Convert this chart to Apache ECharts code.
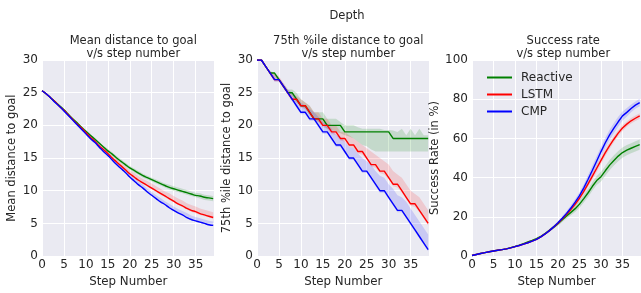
<!DOCTYPE html>
<html>
<head>
<meta charset="UTF-8">
<title>Depth</title>
<script src="https://cdn.jsdelivr.net/npm/echarts@6/dist/echarts.min.js"></script>
<style>
  html, body { margin: 0; padding: 0; background: #fff; }
  #chart { width: 641px; height: 293px; }
</style>
</head>
<body>
<div id="chart"></div>
<script>
// step numbers 0..39
var steps = [];
for (var i = 0; i < 40; i++) steps.push(i);

var seriesNames = ['Reactive', 'LSTM', 'CMP'];
var seriesColors = ['#008000', '#ff0000', '#0000ff'];
var bandColors = ['rgba(0,128,0,0.16)', 'rgba(255,0,0,0.14)', 'rgba(0,0,255,0.14)'];

// panel 1: mean distance to goal
var p1Green = [25.3,24.8,24.2,23.6,23.0,22.4,21.7,21.0,20.4,19.7,19.1,18.5,17.9,17.3,16.7,16.1,15.6,15.0,14.5,14.0,13.5,13.1,12.7,12.3,12.0,11.7,11.4,11.1,10.8,10.5,10.3,10.1,9.9,9.7,9.5,9.3,9.2,9.0,8.9,8.8];
var p1GreenHi = [25.4,24.9,24.3,23.7,23.1,22.5,21.8,21.1,20.5,19.9,19.3,18.7,18.1,17.5,16.9,16.4,15.9,15.3,14.8,14.3,13.8,13.4,13.0,12.6,12.3,12.0,11.7,11.4,11.1,10.9,10.7,10.5,10.3,10.1,9.9,9.7,9.6,9.4,9.3,9.2];
var p1GreenLo = [25.2,24.7,24.1,23.5,22.9,22.3,21.6,20.9,20.3,19.5,18.9,18.3,17.7,17.1,16.5,15.8,15.3,14.7,14.2,13.7,13.2,12.8,12.4,12.0,11.7,11.4,11.1,10.8,10.5,10.2,10.0,9.8,9.6,9.4,9.2,9.0,8.8,8.6,8.5,8.4];
var p1Red = [25.3,24.8,24.2,23.6,22.9,22.3,21.6,20.9,20.2,19.6,18.9,18.2,17.6,16.9,16.3,15.7,15.0,14.4,13.8,13.2,12.6,12.1,11.6,11.2,10.8,10.4,10.0,9.6,9.2,8.8,8.4,8.0,7.7,7.3,7.0,6.8,6.5,6.3,6.1,5.9];
var p1RedHi = [25.4,24.9,24.3,23.7,23.0,22.4,21.7,21.0,20.3,19.7,19.1,18.4,17.8,17.2,16.6,16.0,15.4,14.8,14.2,13.7,13.1,12.7,12.2,11.8,11.5,11.1,10.7,10.3,9.9,9.6,9.2,8.8,8.5,8.1,7.8,7.6,7.3,7.1,6.9,6.7];
var p1RedLo = [25.2,24.7,24.1,23.5,22.8,22.2,21.5,20.8,20.1,19.5,18.8,18.1,17.5,16.8,16.2,15.5,14.9,14.3,13.6,13.0,12.4,11.9,11.4,11.0,10.6,10.2,9.8,9.4,9.0,8.6,8.2,7.8,7.5,7.1,6.8,6.5,6.3,6.1,5.9,5.7];
var p1Blue = [25.3,24.8,24.2,23.5,22.9,22.2,21.5,20.8,20.1,19.4,18.7,18.0,17.4,16.7,16.0,15.4,14.7,14.0,13.4,12.8,12.1,11.5,10.9,10.4,9.8,9.3,8.8,8.3,7.9,7.4,7.0,6.6,6.3,5.9,5.6,5.4,5.2,5.0,4.8,4.7];
var p1BlueHi = [25.4,24.9,24.3,23.6,23.0,22.3,21.6,20.9,20.2,19.6,18.9,18.2,17.6,16.9,16.3,15.7,15.0,14.3,13.7,13.1,12.5,11.9,11.4,10.9,10.3,9.8,9.3,8.9,8.4,8.0,7.6,7.2,6.9,6.6,6.2,6.0,5.8,5.6,5.4,5.3];
var p1BlueLo = [25.2,24.7,24.1,23.4,22.8,22.1,21.4,20.7,20.0,19.3,18.6,17.9,17.3,16.6,15.9,15.3,14.6,13.9,13.3,12.7,12.0,11.4,10.8,10.3,9.7,9.2,8.7,8.2,7.8,7.3,6.9,6.5,6.2,5.8,5.5,5.3,5.1,4.9,4.7,4.6];

// panel 2: 75th percentile distance to goal
var p2Green = [30,30,29,28,28,27,26,25,25,24,23,23,22,21,21,21,20,20,20,20,19,19,19,19,19,19,19,19,19,19,19,18,18,18,18,18,18,18,18,18];
var p2GreenHi = [30,30,29,28.3,28,27.3,26.3,25.5,25.5,25,24,23.5,23,22,22,22,21,21,21,20.5,20,20,20,19.7,19.5,19.5,19.5,19.5,19.5,19.3,19.3,19.2,19,19.5,18.5,19.5,18.5,19.5,18.5,18.5];
var p2GreenLo = [30,30,29,28,27.5,27,26,25,24.5,23.5,23,22.5,21.5,21,20.5,20,19.5,19.3,19,18.8,18.5,18.3,18,17.5,17,16.8,16.3,16,16,16,16,16,16,16,16,16,16,16,16,16];
var p2Red = [30,30,29,28,27,27,26,25,24,24,23,23,22,21,21,20,20,19,19,18,18,17,17,16,16,15,14,14,13,13,12,11,11,10,9,8,8,7,6,5];
var p2RedHi = [30,30,29,28,28,27.5,26.5,25.5,25,24.5,24,23.5,23,22,22,21,21,20,20,19,19,18.5,18,17.5,17,16.5,16,15.5,15,14.5,14,13,12.5,12,11,10,9.5,9,8,7];
var p2RedLo = [30,30,29,27.7,26.7,26.7,25.7,24.7,23.7,23.5,22.7,22.5,21.7,20.7,20.5,19.7,19.5,18.7,18.5,17.7,17.5,16.7,16.5,15.7,15.5,14.7,13.7,13.5,12.7,12.5,11.7,10.7,10.5,9.7,8.7,7.7,7.5,6.7,5.7,4.7];
var p2Blue = [30,30,29,28,27,27,26,25,24,23,22,22,21,21,20,19,19,18,17,17,16,15,15,14,13,13,12,11,10,10,9,8,7,7,6,5,4,3,2,1];
var p2BlueHi = [30,30,29,28.3,27.5,27.3,26.5,25.5,25,24.3,23.5,23,22.5,22,21.3,20.5,20.3,19.5,18.5,18.3,17.5,16.7,16.5,15.7,15,14.5,14,13,12.3,12,11,10.3,9.3,9,8.3,7.3,6.3,5.3,4.3,3.3];
var p2BlueLo = [30,30,29,27.7,26.7,26.7,25.7,24.7,23.7,22.7,21.7,21.7,20.7,20.7,19.7,18.7,18.7,17.7,16.7,16.7,15.7,14.7,14.7,13.7,12.7,12.7,11.7,10.7,9.7,9.7,8.7,7.7,6.7,6.7,5.7,4.7,3.7,2.7,1.7,0.7];

// panel 3: success rate (in %)
var p3Green = [0.3,0.8,1.3,1.8,2.2,2.6,3.0,3.3,3.7,4.3,4.9,5.6,6.4,7.2,8.0,8.9,10.0,11.5,13.1,14.8,16.5,18.5,20.5,22.3,24.2,26.5,29.3,32.3,35.6,38.5,40.5,43.5,46.4,48.8,51.0,52.8,54.0,55.0,56.0,56.8];
var p3GreenHi = [0.5,1.0,1.5,2.0,2.4,2.8,3.2,3.5,3.9,4.6,5.2,5.9,6.7,7.6,8.5,9.4,10.6,12.2,13.9,15.7,17.5,19.6,21.8,23.8,25.9,28.3,31.3,34.4,37.8,40.8,43.0,46.0,49.0,51.4,53.6,55.4,56.6,57.6,58.6,59.4];
var p3GreenLo = [0.1,0.6,1.1,1.6,2.0,2.4,2.8,3.1,3.5,4.0,4.6,5.3,6.1,6.8,7.5,8.4,9.4,10.8,12.3,13.9,15.5,17.4,19.2,20.8,22.5,24.7,27.3,30.2,33.4,36.2,38.0,41.0,43.8,46.2,48.4,50.2,51.4,52.4,53.4,54.2];
var p3Red = [0.3,0.8,1.3,1.8,2.2,2.6,3.0,3.3,3.7,4.2,4.8,5.4,6.1,6.8,7.6,8.5,9.8,11.3,13.0,14.8,16.8,19.0,21.3,23.8,26.5,29.5,33.0,36.8,40.8,44.8,48.8,52.8,56.3,59.6,62.7,65.3,67.3,69.0,70.3,71.5];
var p3RedHi = [0.5,1.0,1.5,2.0,2.4,2.8,3.2,3.5,3.9,4.4,5.0,5.6,6.4,7.1,7.9,8.9,10.2,11.8,13.6,15.5,17.6,19.9,22.3,24.9,27.7,30.8,34.5,38.4,42.6,46.6,50.6,54.6,58.0,61.2,64.2,66.8,68.7,70.4,71.7,72.9];
var p3RedLo = [0.1,0.6,1.1,1.6,2.0,2.4,2.8,3.1,3.5,4.0,4.6,5.2,5.8,6.5,7.3,8.1,9.4,10.8,12.4,14.1,16.0,18.1,20.3,22.7,25.3,28.2,31.5,35.2,39.0,43.0,47.0,51.0,54.6,58.0,61.2,63.8,65.9,67.6,68.9,70.1];
var p3Blue = [0.3,0.8,1.3,1.8,2.2,2.6,3.0,3.3,3.7,4.2,4.8,5.4,6.1,6.8,7.6,8.5,9.8,11.3,13.0,14.9,17.0,19.3,21.8,24.5,27.5,30.8,34.8,39.2,43.8,48.5,53.3,57.8,61.8,65.3,68.5,71.5,73.3,75.3,77.0,78.3];
var p3BlueHi = [0.5,1.0,1.5,2.0,2.4,2.8,3.2,3.5,3.9,4.4,5.0,5.6,6.4,7.1,7.9,8.9,10.2,11.8,13.6,15.7,17.9,20.4,23.0,25.9,29.1,32.6,36.8,41.4,46.2,51.0,55.8,60.4,64.4,67.9,71.0,73.8,75.5,77.3,78.9,80.2];
var p3BlueLo = [0.1,0.6,1.1,1.6,2.0,2.4,2.8,3.1,3.5,4.0,4.6,5.2,5.8,6.5,7.3,8.1,9.4,10.8,12.4,14.1,16.1,18.2,20.6,23.1,25.9,29.0,33.0,37.2,41.6,46.2,50.8,55.2,59.2,62.7,66.0,69.2,71.1,73.3,75.1,76.4];

var panels = [
  { title: 'Mean distance to goal\nv/s step number', yName: 'Mean distance to goal', yMax: 30, yStep: 5, smooth: true,
    lines: [p1Green, p1Red, p1Blue], his: [p1GreenHi, p1RedHi, p1BlueHi], los: [p1GreenLo, p1RedLo, p1BlueLo] },
  { title: '75th %ile distance to goal\nv/s step number', yName: '75th %ile distance to goal', yMax: 30, yStep: 5, smooth: false,
    lines: [p2Green, p2Red, p2Blue], his: [p2GreenHi, p2RedHi, p2BlueHi], los: [p2GreenLo, p2RedLo, p2BlueLo] },
  { title: 'Success rate\nv/s step number', yName: 'Success Rate (in %)', yMax: 100, yStep: 20, smooth: false,
    lines: [p3Green, p3Red, p3Blue], his: [p3GreenHi, p3RedHi, p3BlueHi], los: [p3GreenLo, p3RedLo, p3BlueLo] }
];

var gridLefts = [42, 257, 472];
var gridWidth = 172.5;
var txt = '#262626';
var font = 'DejaVu Sans';

function pairs(ys) {
  return steps.map(function (x, k) { return [x, ys[k]]; });
}

// fill_between style band drawn as one polygon through the axis scales
function bandSeries(pi, lo, hi, color) {
  return {
    type: 'custom', xAxisIndex: pi, yAxisIndex: pi, silent: true, z: 1,
    data: steps.map(function (x, k) { return [x, lo[k], hi[k]]; }),
    encode: { x: 0, y: [1, 2] },
    renderItem: function (params, api) {
      if (params.dataIndex !== 0) return null;
      var pts = [];
      steps.forEach(function (x, k) { pts.push(api.coord([x, hi[k]])); });
      for (var k = steps.length - 1; k >= 0; k--) pts.push(api.coord([steps[k], lo[k]]));
      return { type: 'polygon', shape: { points: pts }, style: { fill: color } };
    }
  };
}

var titles = [{
  text: 'Depth', left: 342, top: 5, textAlign: 'center',
  textStyle: { fontFamily: font, fontSize: 11.5, fontWeight: 'normal', color: txt }
}];
var grids = [], xAxes = [], yAxes = [], series = [];

panels.forEach(function (p, pi) {
  titles.push({
    text: p.title, left: gridLefts[pi] + gridWidth / 2, top: 30, textAlign: 'center',
    textStyle: { fontFamily: font, fontSize: 11.5, fontWeight: 'normal', color: txt, lineHeight: 13 }
  });
  grids.push({ left: gridLefts[pi], top: 60, width: gridWidth, height: 199,
    show: true, backgroundColor: '#eaeaf2', borderWidth: 0 });
  xAxes.push({
    type: 'value', gridIndex: pi, min: 0, max: 39.3, interval: 5,
    name: 'Step Number', nameLocation: 'middle', nameGap: 19,
    nameTextStyle: { fontFamily: font, fontSize: 11.8, color: txt },
    axisLine: { show: false }, axisTick: { show: false },
    axisLabel: { fontFamily: font, fontSize: 12, color: txt, margin: 3, showMaxLabel: false },
    splitLine: { show: true, lineStyle: { color: '#ffffff', width: 1 } }
  });
  yAxes.push({
    type: 'value', gridIndex: pi, min: 0, max: p.yMax, interval: p.yStep,
    name: p.yName, nameLocation: 'middle', nameGap: 24, nameRotate: 90,
    nameTextStyle: { fontFamily: font, fontSize: 11.5, color: txt },
    axisLine: { show: false }, axisTick: { show: false },
    axisLabel: { fontFamily: font, fontSize: 12, color: txt, margin: 4 },
    splitLine: { show: true, lineStyle: { color: '#ffffff', width: 1 } }
  });

  [0, 1, 2].forEach(function (s) {
    series.push(bandSeries(pi, p.los[s], p.his[s], bandColors[s]));
  });
  [0, 1, 2].forEach(function (s) {
    series.push({
      name: seriesNames[s], type: 'line', xAxisIndex: pi, yAxisIndex: pi,
      symbol: 'none', color: seriesColors[s], smooth: p.smooth,
      lineStyle: { color: seriesColors[s], width: 1.4 },
      data: pairs(p.lines[s]), z: 3
    });
  });
});

var chart = echarts.init(document.getElementById('chart'), null, { renderer: 'canvas' });
chart.setOption({
  animation: false,
  backgroundColor: '#ffffff',
  title: titles,
  legend: {
    data: seriesNames, orient: 'vertical', left: 482, top: 66,
    itemWidth: 25, itemHeight: 2, itemGap: 4, icon: 'rect',
    textStyle: { fontFamily: font, fontSize: 12, color: txt, lineHeight: 13, padding: [0, 0, 0, 4] }
  },
  grid: grids,
  xAxis: xAxes,
  yAxis: yAxes,
  series: series
});
</script>
</body>
</html>
